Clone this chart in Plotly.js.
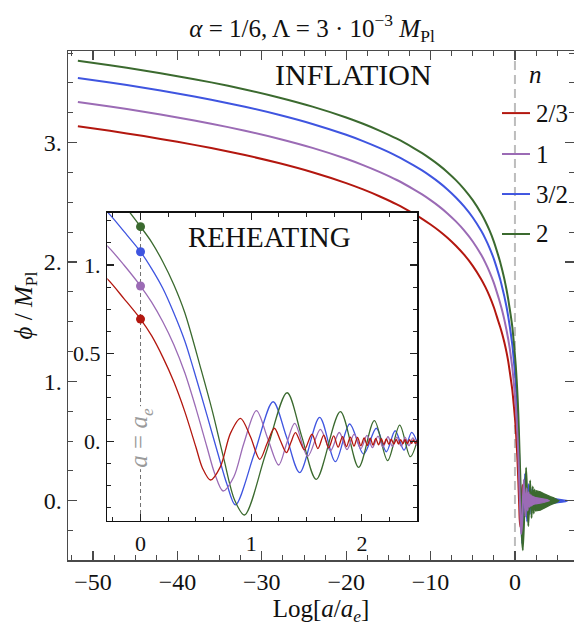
<!DOCTYPE html>
<html><head><meta charset="utf-8">
<script src="https://cdn.plot.ly/plotly-3.0.1.min.js"></script>
<style>html,body{margin:0;padding:0;overflow:hidden;background:#fff}</style>
</head><body><div id="chart" style="width:574px;height:626px"></div>
<script>
// ---------------- data ----------------
const seriesLabels = ["2/3", "1", "3/2", "2"];
const seriesColors = ["#b3170f", "#9b6bb5", "#3f55e0", "#3b6a2f"];

// inflation part: Log[a/a_e] (shared grid) and phi/M_Pl for each n
const efoldsInflation = [-51.8,-48,-44,-40,-36,-32,-28,-24,-20,-18,-16,-14,-12,-11,-10,-9,-8,-7,-6,-5,-4,-3.5,-3,-2.5,-2,-1.75,-1.5,-1.25,-1,-0.8,-0.6,-0.45,-0.3,-0.15];
const phiInflRed =    [3.137,3.099,3.055,3.007,2.955,2.896,2.829,2.752,2.661,2.608,2.549,2.483,2.405,2.362,2.314,2.262,2.203,2.136,2.059,1.968,1.856,1.789,1.712,1.621,1.51,1.455,1.395,1.325,1.245,1.17,1.075,1.0,0.921,0.81];
const phiInflPurple = [3.341,3.303,3.259,3.211,3.159,3.1,3.033,2.956,2.865,2.812,2.753,2.687,2.609,2.566,2.518,2.466,2.407,2.34,2.263,2.172,2.06,1.993,1.916,1.825,1.714,1.655,1.59,1.515,1.43,1.355,1.27,1.19,1.108,1.0];
const phiInflBlue =   [3.542,3.504,3.46,3.412,3.36,3.301,3.234,3.157,3.066,3.013,2.954,2.888,2.81,2.767,2.719,2.667,2.608,2.541,2.464,2.373,2.261,2.194,2.117,2.026,1.915,1.855,1.785,1.71,1.625,1.545,1.455,1.38,1.30,1.19];
const phiInflGreen =  [3.687,3.649,3.605,3.557,3.505,3.446,3.379,3.302,3.211,3.158,3.099,3.033,2.955,2.912,2.864,2.812,2.753,2.686,2.609,2.518,2.406,2.339,2.262,2.171,2.06,2.0,1.93,1.855,1.77,1.69,1.60,1.53,1.45,1.34];

// reheating part: Log[a/a_e] and phi/M_Pl
const efoldsReheatRed = [0,0.1,0.2,0.3,0.4,0.5,0.56,0.632,0.722,0.812,0.903,0.993,1.077,1.143,1.209,1.263,1.318,1.358,1.399,1.44,1.48,1.549,1.602,1.655,1.70,1.745,1.785,1.825,1.86,1.895,1.928,1.96,1.99,2.02,2.048,2.075,2.10,2.125,2.15,2.175,2.198,2.22,2.243,2.265,2.288,2.31,2.33,2.35,2.37,2.39,2.41,2.43,2.448,2.465,2.483,2.5];
const phiReheatRed = [0.694,0.60,0.48,0.34,0.17,-0.03,-0.15,-0.217,-0.141,0.047,0.132,0.028,-0.100,-0.01,0.076,0.007,-0.062,-0.005,0.051,0.002,-0.046,0.042,-0.039,0.037,-0.035,0.033,-0.031,0.029,-0.028,0.026,-0.025,0.024,-0.023,0.022,-0.021,0.020,-0.019,0.018,-0.018,0.017,-0.016,0.016,-0.015,0.014,-0.014,0.013,-0.013,0.012,-0.012,0.011,-0.011,0.011,-0.010,0.010,-0.010,0.009];

const efoldsReheatPurple = [0,0.1,0.2,0.3,0.4,0.5,0.6,0.67,0.746,0.842,0.933,1.047,1.148,1.248,1.32,1.393,1.51,1.625,1.715,1.795,1.865,1.93,1.99,2.045,2.095,2.145,2.19,2.235,2.275,2.315,2.355,2.39,2.425,2.46,2.495];
const phiReheatPurple = [0.881,0.79,0.68,0.55,0.39,0.19,-0.03,-0.18,-0.279,-0.20,-0.01,0.176,0.02,-0.132,-0.01,0.104,-0.083,0.070,-0.052,0.052,-0.045,0.043,-0.040,0.036,-0.034,0.032,-0.030,0.028,-0.027,0.026,-0.025,0.024,-0.023,0.022,-0.021];

const efoldsReheatBlue = [0,0.1,0.2,0.3,0.4,0.481,0.6,0.7,0.78,0.857,1.029,1.197,1.318,1.438,1.618,1.76,1.889,2.015,2.13,2.22,2.30,2.38,2.45,2.52];
const phiReheatBlue = [1.075,0.98,0.87,0.73,0.57,0.406,0.15,-0.07,-0.24,-0.358,-0.066,0.226,0.028,-0.175,0.138,-0.113,0.100,-0.07,0.076,-0.057,0.062,-0.048,0.053,-0.045];

const efoldsReheatGreen = [0,0.1,0.2,0.3,0.4,0.548,0.65,0.75,0.85,0.939,1.13,1.324,1.456,1.588,1.805,1.97,2.112,2.232,2.341,2.437,2.53];
const phiReheatGreen = [1.217,1.13,1.02,0.89,0.73,0.406,0.17,-0.09,-0.33,-0.415,-0.07,0.277,0.03,-0.213,0.170,-0.145,0.119,-0.107,0.094,-0.085,0.077];

// envelope of the fast oscillations seen in the main panel after the inset range
const envEfoldsRed = [2.45, 3.0, 3.5, 3.65];
const envUpRed = [0.010, 0.007, 0.005, 0];
const envLoRed = [-0.010, -0.007, -0.005, 0];
const envEfoldsPurple = [2.45, 3.0, 3.4, 3.8, 4.1];
const envUpPurple = [0.026, 0.020, 0.015, 0.009, 0];
const envLoPurple = [-0.026, -0.020, -0.015, -0.009, 0];
const envEfoldsBlue = [2.45, 3.0, 3.5, 4.0, 4.5, 5.0, 5.5, 6.0, 6.25];
const envUpBlue = [0.05, 0.04, 0.032, 0.026, 0.02, 0.016, 0.012, 0.008, 0];
const envLoBlue = [-0.048, -0.04, -0.032, -0.026, -0.02, -0.016, -0.012, -0.008, 0];
const envEfoldsGreen = [2.45, 3.0, 3.4, 3.8, 4.2, 4.6, 5.0, 5.2];
const envUpGreen = [0.085, 0.075, 0.06, 0.045, 0.034, 0.024, 0.012, 0];
const envLoGreen = [-0.085, -0.08, -0.065, -0.05, -0.035, -0.022, -0.012, 0];

// field value at the end of inflation (dots in the inset) and its position
const endOfInflation = 0;
const phiAtEnd = [0.694, 0.881, 1.075, 1.217];

const mainXTicks = [-50, -40, -30, -20, -10, 0];
const mainYTicks = [0, 1, 2, 3];
const mainYTickText = ["0.", "1.", "2.", "3."];
const insetXTicks = [0, 1, 2];
const insetXTickText = ["0", "1", "2"];
const insetYTicks = [0, 0.5, 1];
const insetYTickText = ["0.", "0.5", "1."];

// ---------------- build the figure ----------------
const FONT = "Liberation Serif, DejaVu Serif, serif";
const curves = [
  {x: efoldsInflation.concat(efoldsReheatRed), y: phiInflRed.concat(phiReheatRed), ex: envEfoldsRed, eu: envUpRed, el: envLoRed},
  {x: efoldsInflation.concat(efoldsReheatPurple), y: phiInflPurple.concat(phiReheatPurple), ex: envEfoldsPurple, eu: envUpPurple, el: envLoPurple},
  {x: efoldsInflation.concat(efoldsReheatBlue), y: phiInflBlue.concat(phiReheatBlue), ex: envEfoldsBlue, eu: envUpBlue, el: envLoBlue},
  {x: efoldsInflation.concat(efoldsReheatGreen), y: phiInflGreen.concat(phiReheatGreen), ex: envEfoldsGreen, eu: envUpGreen, el: envLoGreen}
];
const mainOrder = [0, 2, 3, 1];
const insetOrder = [2, 3, 1, 0];

const traces = [];
mainOrder.forEach(i => {
  const c = curves[i];
  traces.push({type: 'scatter', mode: 'lines', x: c.x, y: c.y, xaxis: 'x', yaxis: 'y',
    name: seriesLabels[i], line: {color: seriesColors[i], width: 2, shape: 'spline', smoothing: 0.6},
    hoverinfo: 'skip'});
  traces.push({type: 'scatter', mode: 'lines', x: c.ex.concat(c.ex.slice().reverse()),
    y: c.eu.concat(c.el.slice().reverse()), xaxis: 'x', yaxis: 'y', fill: 'toself',
    fillcolor: seriesColors[i], line: {color: seriesColors[i], width: 1.2}, hoverinfo: 'skip'});
});
insetOrder.forEach(i => {
  const c = curves[i];
  traces.push({type: 'scatter', mode: 'lines', x: c.x, y: c.y, xaxis: 'x2', yaxis: 'y2',
    line: {color: seriesColors[i], width: 1.3, shape: 'spline', smoothing: 0.9}, hoverinfo: 'skip'});
});
traces.push({type: 'scatter', mode: 'markers', x: phiAtEnd.map(() => endOfInflation), y: phiAtEnd,
  xaxis: 'x2', yaxis: 'y2', marker: {color: seriesColors, size: 9}, hoverinfo: 'skip'});

const frameMain = '#4a4a4a';
const axMain = {
  ticks: 'inside', ticklen: 9, tickwidth: 1.2, tickcolor: frameMain,
  showline: true, linecolor: frameMain, linewidth: 1.5, mirror: 'allticks',
  showgrid: false, zeroline: false, tickfont: {family: FONT, size: 24, color: '#111'}
};
const axInset = {
  ticks: 'inside', ticklen: 7, tickwidth: 1.1, tickcolor: '#222',
  showline: true, linecolor: '#111', linewidth: 1.3, mirror: 'allticks',
  showgrid: false, zeroline: false, tickfont: {family: FONT, size: 22, color: '#111'}
};

// legend (manual, Mathematica-like)
const legendY = [0.878, 0.7976, 0.719, 0.6405];
const shapes = [
  {type: 'line', xref: 'x', yref: 'paper', x0: endOfInflation, x1: endOfInflation, y0: 0, y1: 1,
   line: {color: '#bdbdbd', width: 2, dash: '9px,5px'}, layer: 'below'},
  {type: 'line', xref: 'x2', yref: 'y2', x0: endOfInflation, x1: endOfInflation, y0: -0.449, y1: phiAtEnd[3],
   line: {color: '#707070', width: 1, dash: '4px,3px'}, layer: 'below'}
];
const annotations = [
  {text: 'INFLATION', xref: 'paper', yref: 'paper', x: 0.565, y: 0.953, xanchor: 'center', yanchor: 'middle',
   showarrow: false, font: {family: FONT, size: 30, color: '#111'}},
  {text: 'REHEATING', xref: 'paper', yref: 'paper', x: 0.398, y: 0.6346, xanchor: 'center', yanchor: 'middle',
   showarrow: false, font: {family: FONT, size: 29, color: '#111'}},
  {text: '<i>a</i> = <i>a</i><sub><i>e</i></sub>', xref: 'x2', yref: 'y2', x: endOfInflation, y: 0.02,
   xanchor: 'center', yanchor: 'middle',
   textangle: -90, showarrow: false, bgcolor: '#ffffff', borderpad: 1,
   font: {family: FONT, size: 25, color: '#9a9a9a'}},
  {text: '<i>n</i>', xref: 'paper', yref: 'paper', x: 0.923, y: 0.953, xanchor: 'center', yanchor: 'middle',
   showarrow: false, font: {family: FONT, size: 25, color: '#111'}}
];
seriesLabels.forEach((lab, i) => {
  shapes.push({type: 'line', xref: 'paper', yref: 'paper', x0: 0.8577, x1: 0.913, y0: legendY[i], y1: legendY[i],
    line: {color: seriesColors[i], width: 2}, layer: 'above'});
  annotations.push({text: lab, xref: 'paper', yref: 'paper', x: 0.92, y: legendY[i], xanchor: 'left', yanchor: 'middle',
    showarrow: false, font: {family: FONT, size: 25, color: '#111'}});
});

const layout = {
  width: 574, height: 626,
  margin: {l: 68, r: 0, t: 51, b: 66, pad: 0},
  paper_bgcolor: '#ffffff', plot_bgcolor: '#ffffff',
  showlegend: false,
  font: {family: FONT, color: '#111', size: 20},
  title: {text: '<i>α</i> = 1/6, Λ = 3 · 10<sup>−3</sup> <i>M</i><sub>Pl</sub>',
    xref: 'container', yref: 'container', x: 0.5436, y: 0.955, xanchor: 'center', yanchor: 'middle',
    font: {family: FONT, size: 25, color: '#111'}},
  xaxis: Object.assign({}, axMain, {
    domain: [0, 1], anchor: 'y', range: [-52.97, 7.0], tickmode: 'array', tickvals: mainXTicks,
    ticklabelstandoff: 0,
    minor: {tickmode: 'linear', tick0: 0, dtick: 2.5, ticks: 'inside', ticklen: 5, tickcolor: frameMain, tickwidth: 1, showgrid: false},
    title: {text: 'Log[<i>a</i>/<i>a</i><sub><i>e</i></sub>]', font: {family: FONT, size: 25, color: '#111'}, standoff: 21}
  }),
  yaxis: Object.assign({}, axMain, {
    domain: [0, 1], anchor: 'x', range: [-0.497, 3.768], tickmode: 'array', tickvals: mainYTicks, ticktext: mainYTickText,
    ticklabelstandoff: 0,
    minor: {tickmode: 'linear', tick0: 0, dtick: 0.25, ticks: 'inside', ticklen: 5, tickcolor: frameMain, tickwidth: 1, showgrid: false},
    title: {text: '<i>ϕ</i> / <i>M</i><sub>Pl</sub>', font: {family: FONT, size: 25, color: '#111'}, standoff: 4}
  }),
  xaxis2: Object.assign({}, axInset, {
    domain: [0.0777, 0.6903], anchor: 'y2', range: [-0.3, 2.5], tickmode: 'array', tickvals: insetXTicks, ticktext: insetXTickText,
    ticklabelstandoff: 2,
    minor: {tickmode: 'linear', tick0: 0, dtick: 0.25, ticks: 'inside', ticklen: 4, tickcolor: '#222', tickwidth: 1, showgrid: false}
  }),
  yaxis2: Object.assign({}, axInset, {
    domain: [0.0766, 0.6823], anchor: 'x2', range: [-0.449, 1.296], tickmode: 'array', tickvals: insetYTicks, ticktext: insetYTickText,
    ticklabelstandoff: 1,
    minor: {tickmode: 'linear', tick0: 0, dtick: 0.125, ticks: 'inside', ticklen: 4, tickcolor: '#222', tickwidth: 1, showgrid: false}
  }),
  shapes: shapes,
  annotations: annotations
};

Plotly.newPlot('chart', traces, layout, {displayModeBar: false, staticPlot: true});
</script>
</body></html>
